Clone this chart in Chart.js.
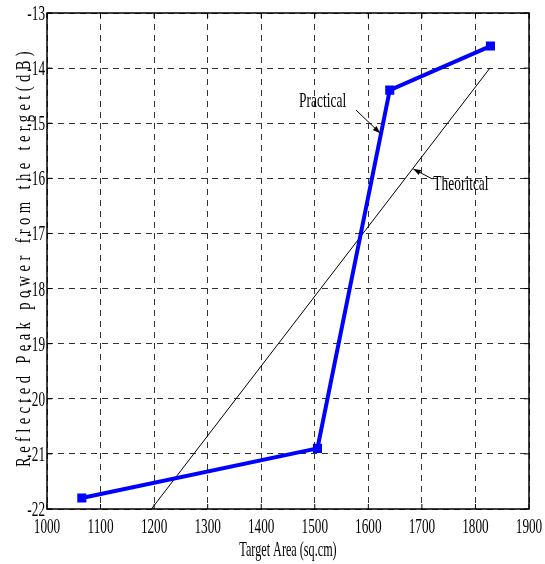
<!DOCTYPE html>
<html>
<head>
<meta charset="utf-8">
<script src="https://cdn.jsdelivr.net/npm/chart.js@4/dist/chart.umd.min.js"></script>
<style>
  html, body { margin: 0; padding: 0; background: #fff; }
  #wrap { width: 545px; height: 564px; }
</style>
</head>
<body>
<div id="wrap"><canvas id="c" width="545" height="564"></canvas></div>
<script>
// ====== データ ======
const practicalX = [1065, 1505, 1640, 1828];
const practicalY = [-21.8, -20.9, -14.4, -13.6];
const theoryX = [1195, 1827];
const theoryY = [-22, -14];
const xTicks = [1000, 1100, 1200, 1300, 1400, 1500, 1600, 1700, 1800, 1900];
const yTicks = [-22, -21, -20, -19, -18, -17, -16, -15, -14, -13];
const xTitle = 'Target Area (sq.cm)';
const yTitle = 'Reflected Peak power from the terget(dB)';

// 注記（矢印の先はデータ座標）
const notes = [
  { text: 'Practical', tipX: 1622, tipY: -15.18, fromDx: -24, fromDy: -23, textDx: -81, textDy: -26 },
  { text: 'Theoritcal', tipX: 1684, tipY: -15.83, fromDx: 19, fromDy: 10, textDx: 20, textDy: 21 }
];

const FONT = "'Liberation Serif', 'Times New Roman', serif";

const toPoints = (xs, ys) => xs.map((x, i) => ({ x: x, y: ys[i] }));

// 縦長のセリフ体で文字を書く
function condensedText(ctx, text, x, y, size, sx, align) {
  ctx.save();
  ctx.translate(x, y);
  ctx.scale(sx, 1);
  ctx.font = size + 'px ' + FONT;
  ctx.textAlign = align;
  ctx.textBaseline = 'alphabetic';
  ctx.fillStyle = '#000';
  ctx.fillText(text, 0, 0);
  ctx.restore();
}

// 枠・目盛り文字・注記・軸タイトル
const extras = {
  id: 'extras',
  afterDraw(chart) {
    const ctx = chart.ctx;
    const a = chart.chartArea;
    const xs = chart.scales.x;
    const ys = chart.scales.y;

    ctx.save();
    ctx.strokeStyle = '#000';
    ctx.lineWidth = 1.5;
    ctx.strokeRect(a.left, a.top, a.right - a.left, a.bottom - a.top);

    // 目盛りの内向きの短い線
    ctx.lineWidth = 1;
    xs.ticks.forEach(t => {
      const px = xs.getPixelForValue(t.value);
      ctx.beginPath();
      ctx.moveTo(px, a.bottom); ctx.lineTo(px, a.bottom - 5);
      ctx.moveTo(px, a.top); ctx.lineTo(px, a.top + 5);
      ctx.stroke();
      condensedText(ctx, String(t.value), px, a.bottom + 24, 21, 0.63, 'center');
    });
    ys.ticks.forEach(t => {
      const py = ys.getPixelForValue(t.value);
      ctx.beginPath();
      ctx.moveTo(a.left, py); ctx.lineTo(a.left + 5, py);
      ctx.moveTo(a.right, py); ctx.lineTo(a.right - 5, py);
      ctx.stroke();
      condensedText(ctx, String(t.value), a.left - 2, py + 7, 21, 0.63, 'right');
    });

    notes.forEach(n => {
      const tx = xs.getPixelForValue(n.tipX);
      const ty = ys.getPixelForValue(n.tipY);
      const fx = tx + n.fromDx;
      const fy = ty + n.fromDy;
      ctx.strokeStyle = '#000';
      ctx.lineWidth = 1;
      ctx.beginPath();
      ctx.moveTo(fx, fy);
      ctx.lineTo(tx, ty);
      ctx.stroke();
      // 矢じり
      const ang = Math.atan2(ty - fy, tx - fx);
      const len = 8;
      ctx.beginPath();
      ctx.moveTo(tx, ty);
      ctx.lineTo(tx - len * Math.cos(ang - 0.35), ty - len * Math.sin(ang - 0.35));
      ctx.lineTo(tx - len * Math.cos(ang + 0.35), ty - len * Math.sin(ang + 0.35));
      ctx.closePath();
      ctx.fillStyle = '#000';
      ctx.fill();
      condensedText(ctx, n.text, tx + n.textDx, ty + n.textDy, 21, 0.64, 'left');
    });

    // 横軸タイトル
    condensedText(ctx, xTitle, (a.left + a.right) / 2, 556, 21, 0.58, 'center');

    // 縦軸タイトル（字間あり）
    ctx.save();
    ctx.translate(30, 257);
    ctx.rotate(-Math.PI / 2);
    ctx.scale(0.7, 1);
    ctx.font = '21px ' + FONT;
    const base = ctx.measureText(yTitle).width;
    const target = 420 / 0.7;
    ctx.letterSpacing = ((target - base) / yTitle.length).toFixed(2) + 'px';
    ctx.textAlign = 'center';
    ctx.textBaseline = 'alphabetic';
    ctx.fillStyle = '#000';
    ctx.fillText(yTitle, 0, 0);
    ctx.restore();

    ctx.restore();
  }
};

new Chart(document.getElementById('c'), {
  type: 'scatter',
  data: {
    datasets: [
      {
        label: 'Practical',
        data: toPoints(practicalX, practicalY),
        showLine: true,
        borderColor: '#0000ff',
        borderWidth: 4,
        pointStyle: 'rect',
        pointRadius: 5,
        pointBorderWidth: 2,
        pointBackgroundColor: '#0000ff',
        pointBorderColor: '#0000ff'
      },
      {
        label: 'Theoritcal',
        data: toPoints(theoryX, theoryY),
        showLine: true,
        borderColor: '#000',
        borderWidth: 1,
        pointRadius: 0
      }
    ]
  },
  options: {
    responsive: false,
    animation: false,
    layout: { padding: { top: 13, right: 16, left: 0, bottom: 0 } },
    plugins: { legend: { display: false }, tooltip: { enabled: false } },
    scales: {
      x: {
        type: 'linear',
        min: 1000,
        max: 1900,
        afterFit: s => { s.height = 55; },
        afterBuildTicks: s => { s.ticks = xTicks.map(v => ({ value: v })); },
        ticks: { display: false },
        grid: { color: '#333', lineWidth: 1, drawTicks: false },
        border: { display: false, dash: [6, 5] }
      },
      y: {
        type: 'linear',
        min: -22,
        max: -13,
        afterFit: s => { s.width = 47; },
        afterBuildTicks: s => { s.ticks = yTicks.map(v => ({ value: v })); },
        ticks: { display: false },
        grid: { color: '#333', lineWidth: 1, drawTicks: false },
        border: { display: false, dash: [6, 5] }
      }
    }
  },
  plugins: [extras]
});
</script>
</body>
</html>
